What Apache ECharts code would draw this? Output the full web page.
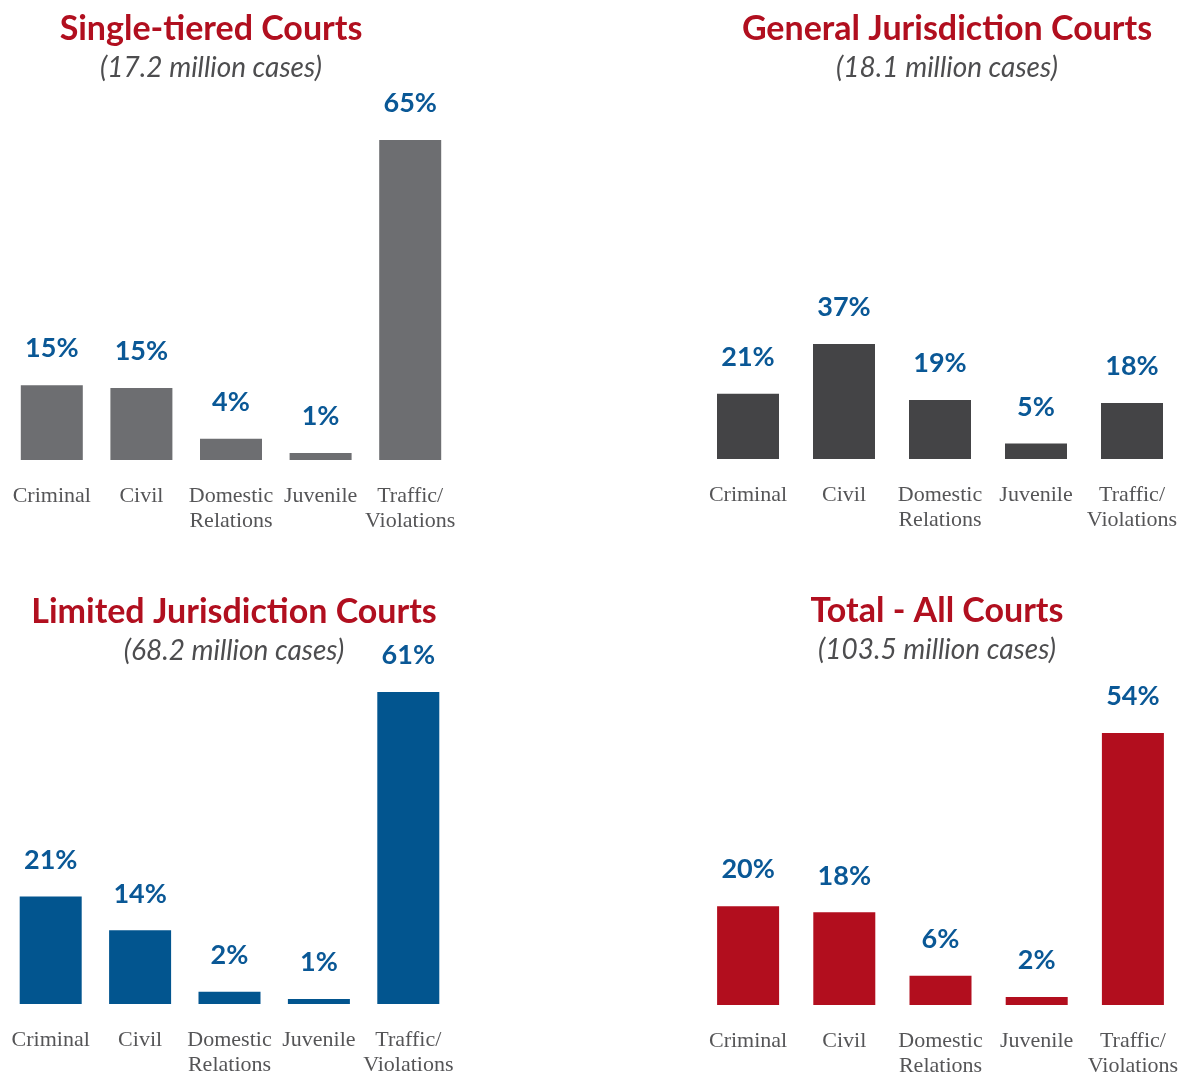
<!DOCTYPE html>
<html>
<head>
<meta charset="UTF-8">
<title>Caseload composition by court type</title>
<script src="https://cdn.jsdelivr.net/npm/echarts@6/dist/echarts.min.js"></script>
<style>
  html, body { margin: 0; padding: 0; background: #fff; }
  #chart { width: 1190px; height: 1076px; }
</style>
</head>
<body>
<div id="chart"></div>
<script type="text/javascript">

  // categories shared by all four panels
  var categories = ['Criminal', 'Civil', 'Domestic\nRelations', 'Juvenile', 'Traffic/\nViolations'];

  // share of cases (%)
  var singleTiered = [15.2, 14.6, 4.3, 1.4, 65];
  var generalJur   = [21, 37, 19, 5, 18];
  var limitedJur   = [21, 14.4, 2.4, 1, 61];
  var totalAll     = [19.6, 18.4, 5.8, 1.6, 54];

  var panelTitles = ['Single-tiered Courts', 'General Jurisdiction Courts', 'Limited Jurisdiction Courts', 'Total - All Courts'];
  var panelSubs   = ['(17.2 million cases)', '(18.1 million cases)', '(68.2 million cases)', '(103.5 million cases)'];

  var panelData  = [singleTiered, generalJur, limitedJur, totalAll];
  var barColors  = ['#6d6e71', '#444446', '#02558f', '#b20e1e'];

  // layout of each panel (px)
  var grids = [
    { left: 7,   right: 735, top: 140, bottom: 616 },
    { left: 700, right: 10,  top: 344, bottom: 617 },
    { left: 6,   right: 737, top: 692, bottom: 72 },
    { left: 700, right: 9,   top: 733, bottom: 71 }
  ];
  var titlePos = [
    { x: 206, y: 7,   sy: 49 },
    { x: 942, y: 7,   sy: 49 },
    { x: 229, y: 590, sy: 632 },
    { x: 932, y: 589, sy: 631 }
  ];

  var myChart = echarts.init(document.getElementById('chart'));

  var option = {
    animation: false,
    title: [],
    grid: [],
    xAxis: [],
    yAxis: [],
    series: []
  };

  for (var i = 0; i < 4; i++) {
    option.title.push({
      text: panelTitles[i],
      left: titlePos[i].x,
      top: titlePos[i].y,
      textAlign: 'center',
      textStyle: { color: '#b10f1f', fontFamily: 'Lato', fontWeight: 'bold', fontSize: 34 }
    });
    option.title.push({
      text: panelSubs[i],
      left: titlePos[i].x,
      top: titlePos[i].sy,
      textAlign: 'center',
      textStyle: { color: '#4d4d4f', fontFamily: 'Lato', fontStyle: 'italic', fontWeight: 'normal', fontSize: 28 }
    });
    var g = grids[i];
    option.grid.push({ left: g.left, right: g.right, top: g.top, bottom: g.bottom, outerBoundsMode: 'none' });
    option.xAxis.push({
      type: 'category',
      gridIndex: i,
      data: categories,
      axisLine: { show: false },
      axisTick: { show: false },
      axisLabel: {
        interval: 0,
        margin: 24,
        color: '#555557',
        fontFamily: 'Liberation Serif',
        fontSize: 22,
        lineHeight: 25
      }
    });
    option.yAxis.push({
      type: 'value',
      gridIndex: i,
      min: 0,
      max: Math.max.apply(null, panelData[i]),
      show: false,
      splitLine: { show: false }
    });
    option.series.push({
      type: 'bar',
      xAxisIndex: i,
      yAxisIndex: i,
      barWidth: 62,
      itemStyle: { color: barColors[i] },
      label: {
        show: true,
        position: 'top',
        distance: 23,
        color: '#0a5896',
        fontFamily: 'Lato',
        fontWeight: 'bold',
        fontSize: 27,
        formatter: function (p) { return Math.round(p.value) + '%'; }
      },
      data: panelData[i]
    });
  }

  myChart.setOption(option);

</script>
</body>
</html>
